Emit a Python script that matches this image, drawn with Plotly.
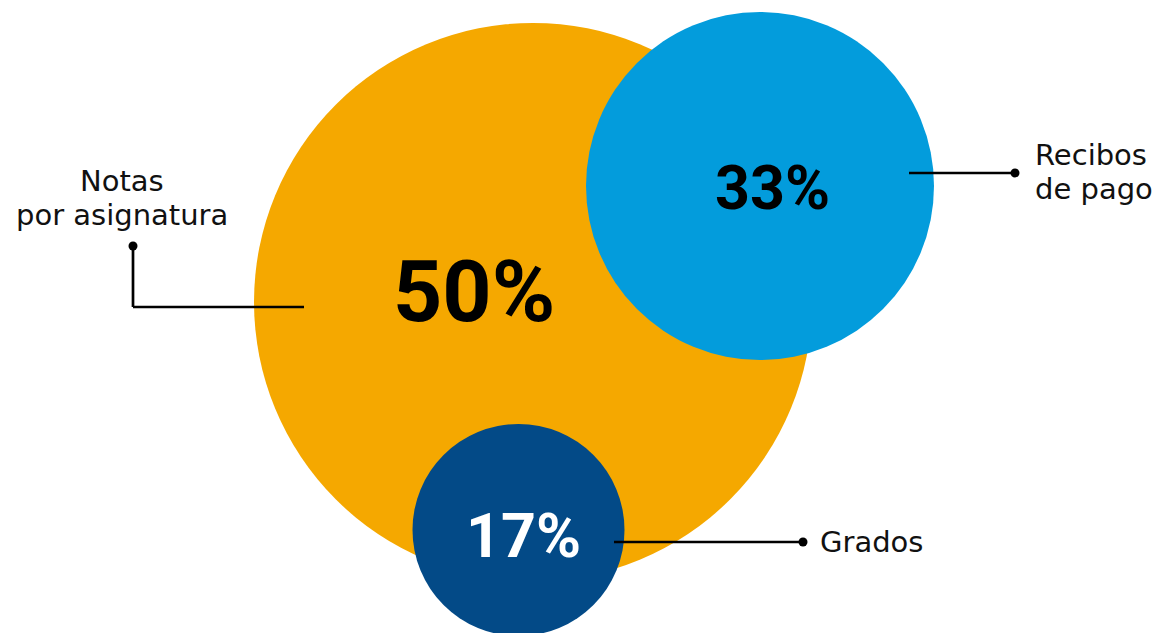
import plotly.graph_objects as go

# Data
categories = ["Notas por asignatura", "Recibos de pago", "Grados"]
label_lines = [["Notas", "por asignatura"], ["Recibos", "de pago"], ["Grados"]]
values = [50, 33, 17]

# Layout (pixel space)
W, H = 1173, 633
centers = [(533, 302), (760, 186), (518.5, 530)]
radii = [279, 174, 106]
fills = ["#F5A800", "#039CDC", "#034A87"]
pct_colors = ["#000000", "#000000", "#FFFFFF"]
pct_pos = [(474, 291), (772, 188), (523, 536)]
pct_sizes = [86, 61, 61]

# leader lines: polyline points, dot at last point
leaders = [
    [(304, 307), (133, 307), (133, 246)],
    [(909, 173), (1015, 173)],
    [(614, 542), (803, 542)],
]
# label anchor: x, first-line y, line step, alignment
label_pos = [(122, 180.5, 34, "center"), (1033, 154.5, 34, "left"), (818, 542, 34, "left")]

fig = go.Figure()
shapes = []
for (cx, cy), r, c in zip(centers, radii, fills):
    shapes.append(dict(type="circle", xref="x", yref="y",
                       x0=cx - r, x1=cx + r, y0=cy - r, y1=cy + r,
                       fillcolor=c, line=dict(width=0), layer="below"))
for pts in leaders:
    for (x0, y0), (x1, y1) in zip(pts[:-1], pts[1:]):
        shapes.append(dict(type="line", xref="x", yref="y", x0=x0, y0=y0, x1=x1, y1=y1,
                           line=dict(color="#000000", width=2.7), layer="above"))

fig.add_trace(go.Scatter(
    x=[p[-1][0] for p in leaders], y=[p[-1][1] for p in leaders],
    mode="markers", marker=dict(size=9, color="#000000"),
    hoverinfo="skip", showlegend=False))

annotations = []
for v, (x, y), c, s in zip(values, pct_pos, pct_colors, pct_sizes):
    annotations.append(dict(x=x, y=y, xref="x", yref="y", text=f"<b>{v}%</b>",
                            showarrow=False,
                            font=dict(family="Roboto, Liberation Sans Narrow, sans-serif",
                                      size=s, color=c)))
for lines, (x, y, step, al) in zip(label_lines, label_pos):
    for i, t in enumerate(lines):
        annotations.append(dict(x=x, y=y + i * step, xref="x", yref="y", text=t, showarrow=False,
                                xanchor=al, align=al,
                                font=dict(family="DejaVu Sans, sans-serif", size=29, color="#111111")))

fig.update_layout(
    width=W, height=H, margin=dict(l=0, r=0, t=0, b=0),
    paper_bgcolor="white", plot_bgcolor="white",
    xaxis=dict(range=[0, W], visible=False, fixedrange=True),
    yaxis=dict(range=[H, 0], visible=False, fixedrange=True),
    shapes=shapes, annotations=annotations, showlegend=False,
)
fig.write_html("out.html", config={"displayModeBar": False},
               post_script="document.body.style.margin='0';document.body.style.overflow='hidden';")
